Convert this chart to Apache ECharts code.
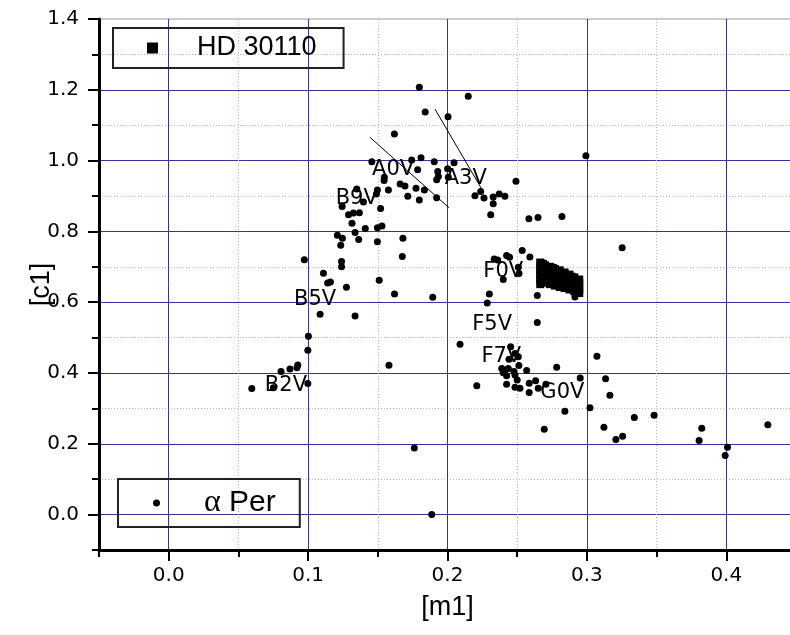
<!DOCTYPE html>
<html><head><meta charset="utf-8">
<script src="https://cdn.jsdelivr.net/npm/echarts@6/dist/echarts.min.js"></script>
<style>html,body{margin:0;padding:0;background:#fff}#c{width:790px;height:635px}</style>
</head><body><div id="c"></div>
<script>
// ---- data ----
const alphaPerX = [0.0596,0.0751,0.0806,0.0870,0.0920,0.0926,0.0998,0.0998,0.1002,0.0973,
0.1086,0.1110,0.1140,0.1160,0.1210,0.1246,0.1234,0.1240,0.1240,0.1275,
0.1244,0.1290,0.1325,0.1368,0.1315,0.1337,0.1363,0.1410,0.1337,0.1349,
0.1397,0.1497,0.1497,0.1530,0.1520,0.1497,0.1490,0.1545,0.1547,0.1576,
0.1457,0.1510,0.1580,0.1620,0.1619,0.1660,0.1695,0.1676,0.1680,0.1715,
0.1743,0.1762,0.1786,0.1774,0.1798,0.1798,0.1810,0.1834,0.1840,0.1887,
0.1894,0.1905,0.1922,0.1930,0.1934,0.1922,0.2001,0.2006,0.2004,0.2047,
0.2090,0.2149,0.2197,0.2210,0.2238,0.2262,0.2285,0.2300,0.2310,0.2328,
0.2328,0.2335,0.2360,0.2371,0.2389,0.2400,0.2400,0.2412,0.2412,0.2424,
0.2445,0.2424,0.2424,0.2436,0.2441,0.2453,0.2477,0.2484,0.2484,0.2484,
0.2491,0.2500,0.2508,0.2512,0.2508,0.2513,0.2520,0.2536,0.2568,0.2584,
0.2586,0.2586,0.2591,0.2649,0.2632,0.2651,0.2644,0.2644,0.2680,0.2694,
0.2706,0.2783,0.2821,0.2842,0.2914,0.2952,0.2993,0.3022,0.3072,0.3122,
0.3134,0.3165,0.3208,0.3256,0.3253,0.3340,0.3482,0.3805,0.3824,0.3992,
0.4009,0.4298];
const alphaPerY = [0.356,0.358,0.404,0.411,0.415,0.4225,0.370,0.464,0.504,0.720,
0.566,0.682,0.654,0.657,0.789,0.781,0.761,0.715,0.700,0.642,
0.870,0.847,0.852,0.853,0.823,0.797,0.777,0.808,0.561,0.920,
0.883,0.771,0.810,0.815,0.865,0.917,0.906,0.944,0.953,0.917,
0.997,0.662,0.422,0.623,1.075,0.934,0.928,0.729,0.781,0.899,
1.002,0.188,0.974,0.922,1.207,0.889,1.008,0.917,1.137,0.000,
0.614,0.997,0.895,0.969,0.955,0.946,0.977,0.953,1.124,0.994,
0.481,1.182,0.901,0.364,0.913,0.894,0.598,0.623,0.847,0.897,
0.878,0.722,0.719,0.906,0.413,0.664,0.401,0.408,0.899,0.732,
0.727,0.392,0.368,0.413,0.439,0.474,0.404,0.455,0.394,0.360,
0.942,0.380,0.446,0.421,0.699,0.681,0.357,0.746,0.407,0.836,
0.371,0.345,0.728,0.839,0.378,0.357,0.619,0.543,0.713,0.241,
0.368,0.416,0.842,0.292,0.615,0.386,1.014,0.302,0.447,0.247,
0.384,0.337,0.212,0.221,0.754,0.274,0.281,0.209,0.244,0.167,
0.190,0.254];
const hdX = [0.2665,0.2665,0.2665,0.2665,0.2665,0.2665,
0.2700,0.2700,0.2700,0.2700,0.2700,
0.2735,0.2735,0.2735,0.2735,0.2735,
0.2770,0.2770,0.2770,0.2770,0.2770,
0.2805,0.2805,0.2805,0.2805,0.2805,
0.2840,0.2840,0.2840,0.2840,0.2840,
0.2875,0.2875,0.2875,0.2875,0.2875,
0.2910,0.2910,0.2910,0.2910,0.2910,
0.2945,0.2945,0.2945,0.2945,0.2945,
0.2685,0.2755,0.2890];
const hdY = [0.712,0.700,0.688,0.676,0.664,0.651,
0.704,0.692,0.680,0.667,0.655,
0.700,0.688,0.676,0.663,0.651,
0.694,0.682,0.670,0.658,0.647,
0.690,0.678,0.666,0.654,0.643,
0.684,0.673,0.661,0.650,0.640,
0.678,0.667,0.656,0.645,0.636,
0.670,0.660,0.650,0.640,0.631,
0.664,0.654,0.644,0.634,0.626,
0.708,0.697,0.672];
const specNames = ['B2V','B5V','B9V','A0V','A3V','F0V','F5V','F7V','G0V'];
const specX = [0.0841,0.1050,0.1349,0.1610,0.2131,0.2400,0.2320,0.2386,0.2824];
const specY = [0.364,0.608,0.892,0.975,0.9485,0.687,0.537,0.447,0.346];
const lineA0VX = [0.1444,0.2011];
const lineA0VY = [1.0657,0.8667];
const lineA3VX = [0.1910,0.2245];
const lineA3VY = [1.1456,0.9200];
const xMajorTicks = [0.0,0.1,0.2,0.3,0.4];
const xMinorTicks = [-0.05,0.05,0.15,0.25,0.35];
const yMajorTicks = [0.0,0.2,0.4,0.6,0.8,1.0,1.2,1.4];
const yMinorTicks = [-0.1,0.1,0.3,0.5,0.7,0.9,1.1,1.3];

// ---- chart ----
const FONT = 'Liberation Sans, Arial, sans-serif';
const TICKFONT = 'DejaVu Sans, Liberation Sans, sans-serif';
const BLUE = '#34349c';
const DOT = '#9fcca6';
const zip = (xs, ys) => xs.map((x, i) => [x, ys[i]]);
const fmt = v => Number(v).toFixed(1);

const chart = echarts.init(document.getElementById('c'), null, {renderer: 'canvas'});
chart.setOption({
  animation: false,
  backgroundColor: '#fff',
  grid: {left: 99, right: -6, top: 19, bottom: 85, show: true, borderColor: '#999', borderWidth: 1,
         containLabel: false, outerBoundsMode: 'none'},
  xAxis: [
    {type: 'value', position: 'bottom', min: -0.05, max: 0.45,
     name: '[m1]', nameLocation: 'middle', nameGap: 44, nameMoveOverlap: false,
     nameTextStyle: {fontSize: 27, color: '#000', fontFamily: FONT},
     axisLine: {show: true, onZero: false, lineStyle: {color: '#000', width: 3}},
     axisTick: {show: true, customValues: xMajorTicks, length: 11, lineStyle: {color: '#000', width: 2}},
     axisLabel: {customValues: xMajorTicks, formatter: fmt, fontSize: 20, color: '#000', fontFamily: TICKFONT, margin: 16},
     splitLine: {show: true, lineStyle: {color: BLUE, width: 1}}},
    {type: 'value', position: 'bottom', min: -0.05, max: 0.45,
     axisLine: {show: false, onZero: false},
     axisTick: {show: true, inside: false, customValues: xMinorTicks, length: 7, lineStyle: {color: '#000', width: 2}},
     axisLabel: {show: false},
     splitLine: {show: true, showMinLine: false, lineStyle: {color: DOT, width: 1, type: [1, 2]}}}
  ],
  yAxis: [
    {type: 'value', position: 'left', min: -0.1, max: 1.4,
     name: '[c1]', nameLocation: 'middle', nameGap: 44, nameRotate: 90, nameMoveOverlap: false,
     nameTextStyle: {fontSize: 27, color: '#000', fontFamily: FONT},
     axisLine: {show: true, onZero: false, lineStyle: {color: '#000', width: 3}},
     axisTick: {show: true, customValues: yMajorTicks, length: 11, lineStyle: {color: '#000', width: 2}},
     axisLabel: {customValues: yMajorTicks, formatter: fmt, fontSize: 20, color: '#000', fontFamily: TICKFONT, margin: 20},
     splitLine: {show: true, showMaxLine: false, lineStyle: {color: BLUE, width: 1}}},
    {type: 'value', position: 'left', min: -0.1, max: 1.4,
     axisLine: {show: false, onZero: false},
     axisTick: {show: true, inside: false, customValues: yMinorTicks, length: 7, lineStyle: {color: '#000', width: 2}},
     axisLabel: {show: false},
     splitLine: {show: true, showMinLine: false, lineStyle: {color: DOT, width: 1, type: [1, 2]}}}
  ],
  legend: [
    {data: [{name: 'HD 30110', icon: 'rect'}], left: 113, top: 28, orient: 'horizontal',
     itemWidth: 11, itemHeight: 11, padding: [6, 27, 6, 34], borderColor: '#222', borderWidth: 2,
     selectedMode: false, itemStyle: {opacity: 1},
     textStyle: {fontSize: 27, color: '#000', fontFamily: FONT, padding: [0, 0, 0, 34], lineHeight: 28}},
    {data: [{name: 'α Per', icon: 'circle'}], left: 118, top: 479, orient: 'horizontal',
     itemWidth: 7, itemHeight: 7, padding: [7, 24, 7, 35], borderColor: '#222', borderWidth: 2,
     selectedMode: false, itemStyle: {opacity: 1},
     formatter: () => '{g|α} Per',
     textStyle: {fontSize: 30, color: '#000', fontFamily: FONT, padding: [0, 0, 0, 39], lineHeight: 34,
       rich: {g: {fontFamily: 'Liberation Serif, DejaVu Serif, serif', fontSize: 32, color: '#000', lineHeight: 34}}}}
  ],
  series: [
    {name: 'A0V line', type: 'line', xAxisIndex: 0, yAxisIndex: 0, data: zip(lineA0VX, lineA0VY),
     showSymbol: false, symbol: 'none', silent: true, lineStyle: {color: '#000', width: 1}, z: 3},
    {name: 'A3V line', type: 'line', xAxisIndex: 0, yAxisIndex: 0, data: zip(lineA3VX, lineA3VY),
     showSymbol: false, symbol: 'none', silent: true, lineStyle: {color: '#000', width: 1}, z: 3},
    {name: 'HD 30110', type: 'scatter', xAxisIndex: 0, yAxisIndex: 0, data: zip(hdX, hdY),
     symbol: 'rect', symbolSize: 8, itemStyle: {color: '#000', opacity: 1}, z: 4},
    {name: 'α Per', type: 'scatter', xAxisIndex: 0, yAxisIndex: 0, data: zip(alphaPerX, alphaPerY),
     symbol: 'circle', symbolSize: 7, itemStyle: {color: '#000', opacity: 1}, z: 4},
    {name: 'spectral types', type: 'scatter', xAxisIndex: 0, yAxisIndex: 0,
     data: specNames.map((n, i) => ({name: n, value: [specX[i], specY[i]]})),
     symbolSize: 0, silent: true, z: 5, itemStyle: {opacity: 1},
     label: {show: true, position: 'inside', formatter: p => p.name, fontSize: 21, color: '#000', fontFamily: TICKFONT}}
  ]
});
</script></body></html>
